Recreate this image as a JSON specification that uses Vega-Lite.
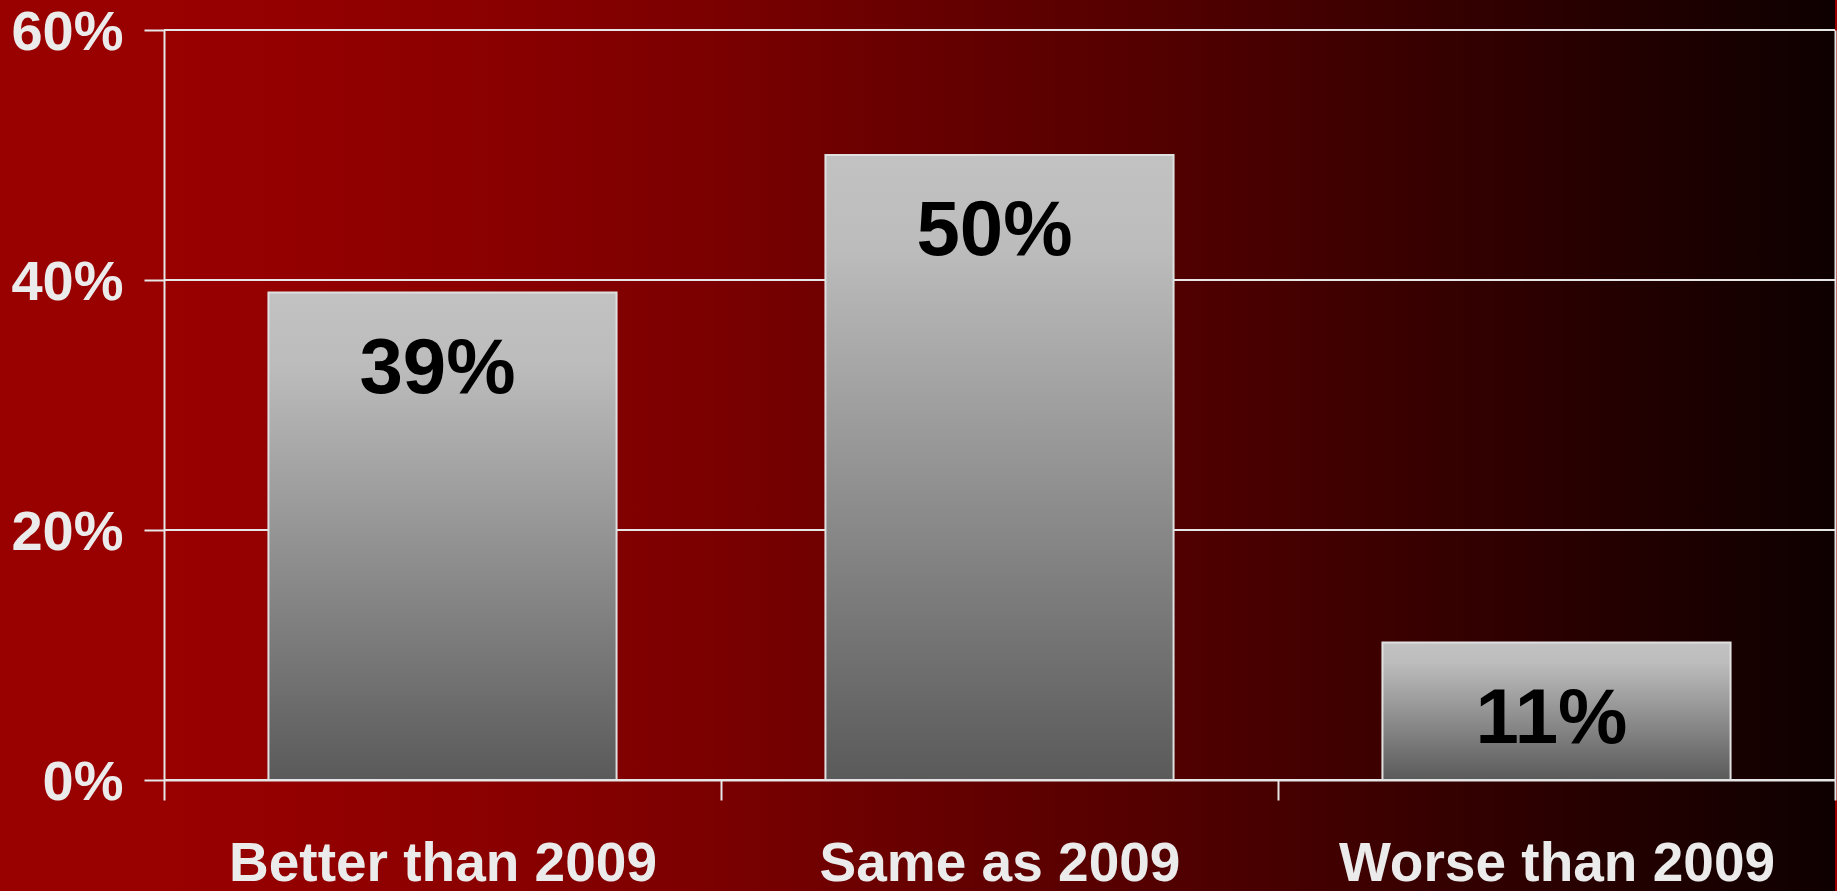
{
  "$schema": "https://vega.github.io/schema/vega-lite/v6.json",
  "width": 1671,
  "height": 750,
  "autosize": "none",
  "padding": {"left": 164, "top": 30, "right": 2, "bottom": 111},
  "background": "#990000",
  "config": {"view": {"stroke": null}, "font": "Liberation Sans"},
  "data": {"values": [
    {"category": "Better than 2009", "value": 0.39},
    {"category": "Same as 2009", "value": 0.50},
    {"category": "Worse than 2009", "value": 0.11}
  ]},
  "resolve": {"axis": {"y": "independent"}},
  "layer": [
    {
      "data": {"values": [{"bg": "plot"}]},
      "mark": {
        "type": "rect",
        "clip": false,
        "fill": {
          "gradient": "linear", "x1": 0, "y1": 0, "x2": 1, "y2": 0,
          "stops": [
            {"offset": 0, "color": "#990000"},
            {"offset": 0.18, "color": "#8c0000"},
            {"offset": 0.32, "color": "#7c0000"},
            {"offset": 0.46, "color": "#660000"},
            {"offset": 0.6, "color": "#520000"},
            {"offset": 0.74, "color": "#3a0000"},
            {"offset": 0.88, "color": "#220000"},
            {"offset": 1, "color": "#0e0000"}
          ]
        }
      },
      "encoding": {
        "y": {"datum": -0.2, "type": "quantitative", "scale": {"domain": [0, 0.6], "nice": false},
          "axis": {"orient": "right", "domain": true, "domainColor": "#e6e6e6", "domainWidth": 2, "ticks": false, "labels": false, "grid": false, "title": null, "zindex": 1}},
        "y2": {"datum": 0.7}
      }
    },
    {
      "data": {"values": [{"g": 0}, {"g": 0.2}, {"g": 0.4}, {"g": 0.6}]},
      "mark": {"type": "rule", "color": "#e6e6e6", "strokeWidth": 2},
      "encoding": {
        "y": {"field": "g", "type": "quantitative", "scale": {"domain": [0, 0.6], "nice": false}, "axis": null}
      }
    },
    {
      "mark": {
        "type": "bar",
        "width": {"band": 0.625},
        "stroke": "#e0e0e0",
        "strokeWidth": 2,
        "fill": {
          "gradient": "linear", "x1": 0, "y1": 0, "x2": 0, "y2": 1,
          "stops": [
            {"offset": 0, "color": "#c2c2c2"},
            {"offset": 0.15, "color": "#bcbcbc"},
            {"offset": 1, "color": "#5a5a5a"}
          ]
        }
      },
      "encoding": {
        "x": {"field": "category", "type": "nominal", "sort": null,
          "scale": {"paddingInner": 0, "paddingOuter": 0},
          "axis": {"orient": "bottom", "tickBand": "extent", "domain": true, "domainColor": "#e6e6e6", "domainWidth": 2,
            "ticks": true, "tickColor": "#e6e6e6", "tickWidth": 2, "tickSize": 20, "labelAngle": 0, "labelLimit": 0,
            "labelFont": "Liberation Sans", "labelFontSize": 55, "labelFontWeight": "bold", "labelColor": "#ebebeb",
            "labelPadding": 37, "title": null, "grid": false, "zindex": 1}},
        "y": {"field": "value", "type": "quantitative", "scale": {"domain": [0, 0.6], "nice": false},
          "axis": {"orient": "left", "values": [0, 0.2, 0.4, 0.6], "format": ".0%", "grid": false,
            "domain": true, "domainColor": "#e6e6e6", "domainWidth": 2,
            "ticks": true, "tickColor": "#e6e6e6", "tickWidth": 2, "tickSize": 20, "labelLimit": 0, "labelOffset": 2,
            "labelFont": "Liberation Sans", "labelFontSize": 56, "labelFontWeight": "bold", "labelColor": "#ebebeb",
            "labelPadding": 21, "title": null, "zindex": 1}}
      }
    },
    {
      "mark": {"type": "text", "baseline": "alphabetic", "dy": 100, "dx": -5, "fontSize": 78, "fontWeight": "bold", "font": "Liberation Sans", "color": "#000000"},
      "encoding": {
        "x": {"field": "category", "type": "nominal", "sort": null},
        "y": {"field": "value", "type": "quantitative", "scale": {"domain": [0, 0.6], "nice": false}, "axis": null},
        "text": {"field": "value", "type": "quantitative", "format": ".0%"}
      }
    }
  ]
}
